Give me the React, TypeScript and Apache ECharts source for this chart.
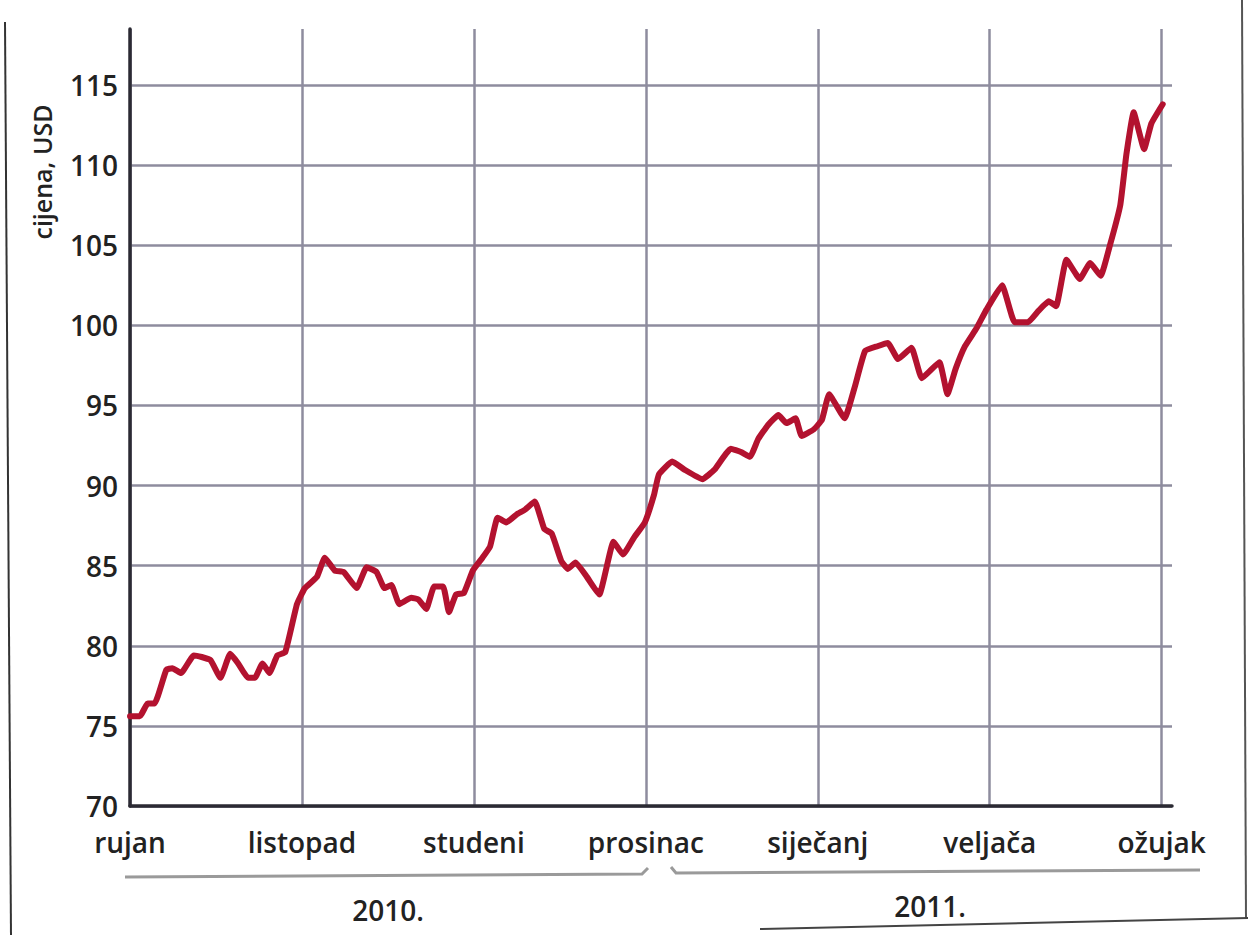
import React, { useEffect, useRef } from "react";
import * as echarts from "echarts";

const monthLabels = ["rujan", "listopad", "studeni", "prosinac", "siječanj", "veljača", "ožujak"];
const yearLabels = ["2010.", "2011."];
const yTicks = [70, 75, 80, 85, 90, 95, 100, 105, 110, 115];

// x position in months from start of "rujan"
const monthPos = [
  0.0, 0.057, 0.103, 0.143, 0.211, 0.246, 0.297, 0.371, 0.417, 0.469, 0.526, 0.583, 0.629, 0.686, 0.726, 0.771, 0.811, 0.857, 0.903, 0.971,
  1.017, 1.087, 1.133, 1.191, 1.243, 1.318, 1.376, 1.434, 1.48, 1.52, 1.566, 1.636, 1.676, 1.723, 1.769, 1.821, 1.855, 1.896, 1.942, 1.994,
  2.05, 2.094, 2.138, 2.188, 2.249, 2.298, 2.354, 2.409, 2.453, 2.508, 2.547, 2.591, 2.657, 2.729, 2.812, 2.867, 2.934, 2.994,
  3.047, 3.076, 3.153, 3.224, 3.329, 3.4, 3.494, 3.553, 3.606, 3.653, 3.712, 3.771, 3.818, 3.871, 3.906, 3.976,
  4.024, 4.066, 4.156, 4.216, 4.275, 4.347, 4.407, 4.467, 4.545, 4.605, 4.707, 4.754, 4.802, 4.856, 4.922, 4.982,
  5.072, 5.145, 5.223, 5.283, 5.343, 5.386, 5.446, 5.524, 5.584, 5.645, 5.699, 5.759, 5.795, 5.837, 5.898, 5.94, 6.006,
];
const prices = [
  75.6, 75.6, 76.4, 76.4, 78.5, 78.6, 78.3, 79.4, 79.3, 79.1, 78.0, 79.5, 78.9, 78.0, 78.0, 78.9, 78.3, 79.4, 79.6, 82.6,
  83.6, 84.3, 85.5, 84.7, 84.6, 83.6, 84.9, 84.6, 83.6, 83.8, 82.6, 83.0, 82.9, 82.3, 83.7, 83.7, 82.1, 83.2, 83.3, 84.7,
  85.5, 86.2, 88.0, 87.7, 88.2, 88.5, 89.0, 87.3, 87.0, 85.3, 84.8, 85.2, 84.3, 83.2, 86.5, 85.7, 86.8, 87.7,
  89.4, 90.7, 91.5, 91.0, 90.4, 91.0, 92.3, 92.1, 91.8, 92.9, 93.8, 94.4, 93.9, 94.2, 93.1, 93.5,
  94.1, 95.7, 94.2, 96.2, 98.4, 98.7, 98.9, 97.9, 98.6, 96.7, 97.7, 95.7, 97.3, 98.7, 99.8, 101.0,
  102.5, 100.2, 100.2, 100.9, 101.5, 101.2, 104.1, 102.9, 103.9, 103.1, 105.0, 107.5, 110.7, 113.3, 111.0, 112.6, 113.8,
];

const FONT = "'Open Sans', 'Noto Sans', sans-serif";

export default function App() {
  const ref = useRef<HTMLDivElement>(null);
  useEffect(() => {
    if (!ref.current) return;
    const chart = echarts.init(ref.current, null, { renderer: "svg" });
    const data = monthPos.map((m, i) => [m, prices[i]]);
    const gridColor = "#8e8c9e";
    const axisColor = "#2b2a33";
    chart.setOption({
      animation: false,
      backgroundColor: "#ffffff",
      grid: { left: 130, right: 76, top: 29, bottom: 129, containLabel: false },
      xAxis: {
        type: "value",
        min: 0,
        max: 6.06,
        interval: 1,
        axisLine: { show: true, lineStyle: { color: axisColor, width: 3.5 } },
        axisTick: { show: false },
        splitLine: { show: true, showMaxLine: false, lineStyle: { color: gridColor, width: 2.5 } },
        axisLabel: {
          showMaxLabel: false,
          margin: 22,
          fontFamily: FONT,
          fontSize: 28,
          fontWeight: 600,
          color: "#222",
          formatter: (v: number) => (Number.isInteger(v) ? monthLabels[v] : ""),
        },
      },
      yAxis: {
        type: "value",
        min: yTicks[0],
        max: 118.5,
        interval: 5,
        axisLine: { show: true, lineStyle: { color: axisColor, width: 3.5 } },
        axisTick: { show: false },
        splitLine: { show: true, showMaxLine: false, lineStyle: { color: gridColor, width: 2.5 } },
        axisLabel: {
          showMaxLabel: false,
          margin: 12,
          fontFamily: FONT,
          fontSize: 28,
          fontWeight: 600,
          color: "#222",
          formatter: (v: number) => (yTicks.includes(v) ? String(v) : ""),
        },
      },
      series: [
        {
          type: "line",
          data,
          symbol: "none",
          smooth: 0.12,
          lineStyle: { color: "#b3122f", width: 6, join: "round", cap: "round" },
          z: 5,
        },
      ],
      graphic: [
        {
          type: "text",
          x: 42,
          y: 172,
          rotation: Math.PI / 2,
          style: {
            text: "cijena, USD",
            fontFamily: FONT,
            fontSize: 25,
            fontWeight: 600,
            fill: "#222",
            textAlign: "center",
            textVerticalAlign: "middle",
          },
        },
        { type: "polyline", shape: { points: [[125, 877], [642, 874], [648, 868]] }, style: { stroke: "#9a9a9a", lineWidth: 3, fill: null } },
        { type: "polyline", shape: { points: [[671, 867], [676, 873], [1200, 870]] }, style: { stroke: "#9a9a9a", lineWidth: 3, fill: null } },
        {
          type: "text",
          x: 388,
          y: 910,
          style: { text: yearLabels[0], fontFamily: FONT, fontSize: 28, fontWeight: 600, fill: "#222", textAlign: "center", textVerticalAlign: "middle" },
        },
        {
          type: "text",
          x: 930,
          y: 906,
          style: { text: yearLabels[1], fontFamily: FONT, fontSize: 28, fontWeight: 600, fill: "#222", textAlign: "center", textVerticalAlign: "middle" },
        },
        { type: "line", shape: { x1: 5, y1: 22, x2: 11, y2: 935 }, style: { stroke: "#333", lineWidth: 2 } },
        { type: "line", shape: { x1: 1242, y1: 0, x2: 1246, y2: 918 }, style: { stroke: "#555", lineWidth: 2 } },
        { type: "line", shape: { x1: 760, y1: 929, x2: 1248, y2: 918 }, style: { stroke: "#444", lineWidth: 2 } },
      ],
    });
    return () => chart.dispose();
  }, []);
  return <div ref={ref} style={{ position: "fixed", left: 0, top: 0, width: 1248, height: 935 }} />;
}
